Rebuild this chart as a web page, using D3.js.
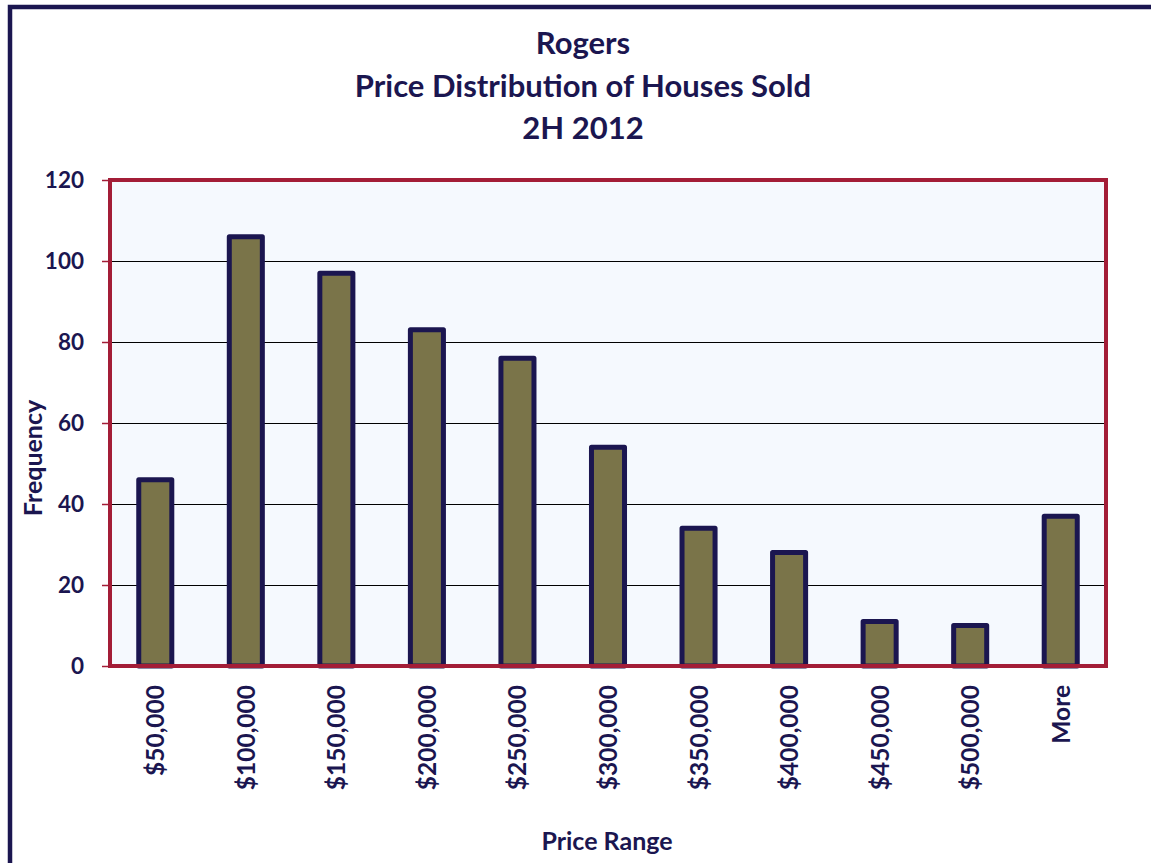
<!DOCTYPE html>
<html>
<head>
<meta charset="utf-8">
<script src="https://cdn.jsdelivr.net/npm/d3@7"></script>
<style>
  html, body { margin: 0; padding: 0; background: #ffffff; }
  svg { display: block; }
  text { font-family: Lato, "Open Sans", sans-serif; font-weight: 700; fill: #1b1650; }
</style>
</head>
<body>
<svg id="chart" width="1151" height="863"></svg>
<script>
// Price buckets (upper bound of each bin) and number of houses sold in each
const categories = ["$50,000", "$100,000", "$150,000", "$200,000", "$250,000", "$300,000",
                    "$350,000", "$400,000", "$450,000", "$500,000", "More"];
const frequency = [46, 106, 97, 83, 76, 54, 34, 28, 11, 10, 37];
const yTicks = [0, 20, 40, 60, 80, 100, 120];
const titleLines = ["Rogers", "Price Distribution of Houses Sold", "2H 2012"];

const svg = d3.select("#chart");
const W = 1151, H = 863;
const plot = { left: 110, top: 180, right: 1106, bottom: 666 };

const navy = "#1b1650";
const red = "#a31d37";

// outer chart frame (runs past the right and bottom edges)
svg.append("rect")
  .attr("x", 10).attr("y", 7)
  .attr("width", W + 20).attr("height", H + 20)
  .attr("fill", "#ffffff")
  .attr("stroke", navy).attr("stroke-width", 4.5);

const x = d3.scaleBand()
  .domain(categories)
  .range([plot.left, plot.right])
  .paddingInner(0.635)
  .paddingOuter(0.3175);

const y = d3.scaleLinear()
  .domain([0, 120])
  .range([plot.bottom, plot.top]);

// plot background
svg.append("rect")
  .attr("x", plot.left).attr("y", plot.top)
  .attr("width", plot.right - plot.left).attr("height", plot.bottom - plot.top)
  .attr("fill", "#f5f9fe");

// horizontal gridlines
svg.append("g")
  .attr("shape-rendering", "crispEdges")
  .selectAll("line")
  .data(yTicks.filter(t => t > 0 && t < 120))
  .join("line")
  .attr("x1", plot.left).attr("x2", plot.right)
  .attr("y1", d => Math.round(y(d)) + 0.5).attr("y2", d => Math.round(y(d)) + 0.5)
  .attr("stroke", "#000000").attr("stroke-width", 1);

// y axis: tick marks and labels
const yAxis = d3.axisLeft(y).tickValues(yTicks).tickSize(8).tickPadding(18);
const yG = svg.append("g").attr("transform", `translate(${plot.left},0)`).call(yAxis);
yG.select(".domain").remove();
yG.selectAll(".tick line").attr("stroke", red).attr("stroke-width", 1.5);
yG.selectAll(".tick text")
  .style("font-family", "Lato, 'Open Sans', sans-serif")
  .style("font-weight", 700)
  .attr("font-size", 22.5)
  .attr("fill", navy);

// bars
svg.append("g")
  .selectAll("rect")
  .data(frequency)
  .join("rect")
  .attr("x", (d, i) => x(categories[i]))
  .attr("y", d => y(d))
  .attr("width", x.bandwidth())
  .attr("height", d => y(0) - y(d))
  .attr("fill", "#7a7449")
  .attr("stroke", navy)
  .attr("stroke-width", 5)
  .attr("stroke-linejoin", "round");

// plot frame drawn over the bars
svg.append("rect")
  .attr("x", plot.left).attr("y", plot.top)
  .attr("width", plot.right - plot.left).attr("height", plot.bottom - plot.top)
  .attr("fill", "none")
  .attr("stroke", red).attr("stroke-width", 4);

// x category labels, rotated
svg.append("g")
  .selectAll("text")
  .data(categories)
  .join("text")
  .attr("transform", d => `translate(${x(d) + x.bandwidth() / 2 + 9},685) rotate(-90)`)
  .attr("text-anchor", "end")
  .attr("font-size", 24.5)
  .text(d => d);

// titles
svg.append("g")
  .selectAll("text")
  .data(titleLines)
  .join("text")
  .attr("x", 583)
  .attr("y", (d, i) => 54 + i * 42.5)
  .attr("text-anchor", "middle")
  .attr("font-size", 31)
  .text(d => d);

// axis titles
svg.append("text")
  .attr("x", 607).attr("y", 850)
  .attr("text-anchor", "middle")
  .attr("font-size", 25)
  .text("Price Range");

svg.append("text")
  .attr("transform", "translate(42,458) rotate(-90)")
  .attr("text-anchor", "middle")
  .attr("font-size", 25)
  .text("Frequency");
</script>
</body>
</html>
